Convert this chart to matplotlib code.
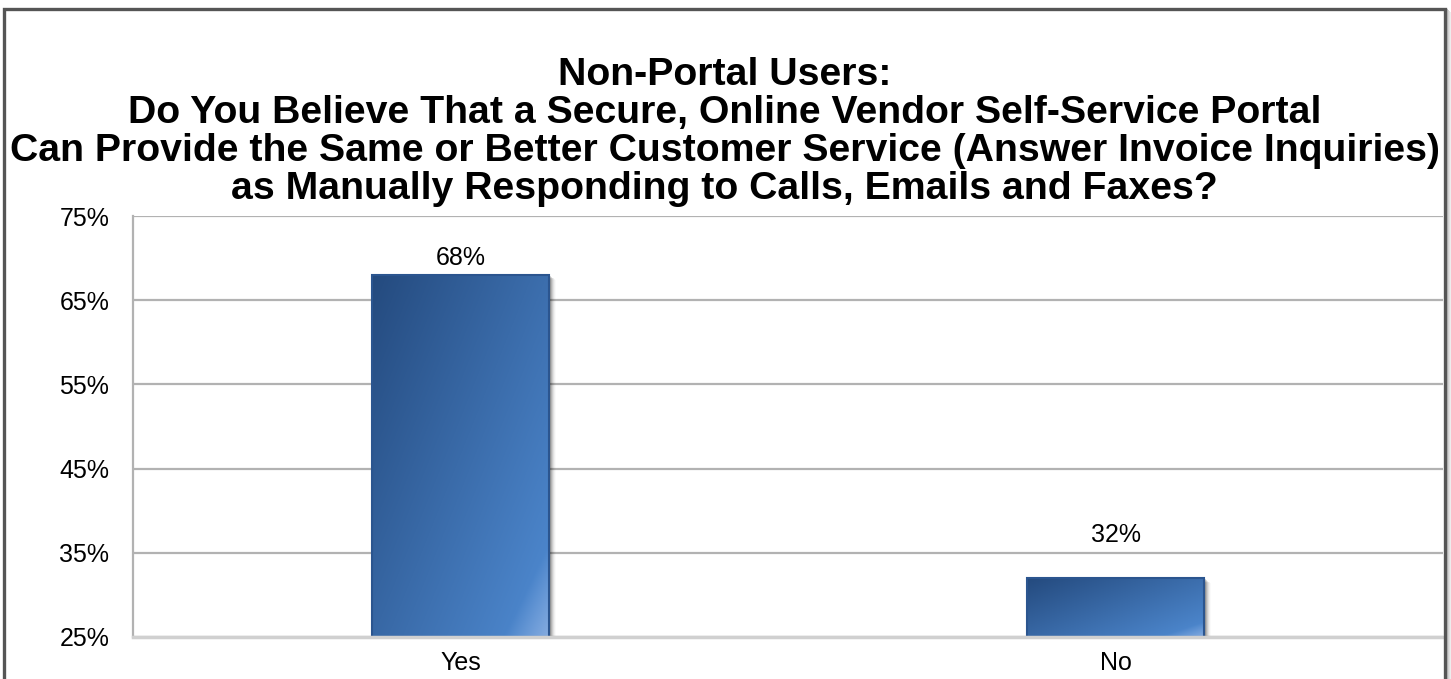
import numpy as np
import matplotlib.pyplot as plt
import matplotlib.transforms as mtransforms
from matplotlib.patches import Rectangle
from matplotlib.ticker import FuncFormatter

plt.rcParams['font.family'] = ['Liberation Sans', 'DejaVu Sans']

categories = ['Yes', 'No']
values = [68, 32]
yticks = [25, 35, 45, 55, 65, 75]
title = ('Non-Portal Users:\n'
         'Do You Believe That a Secure, Online Vendor Self-Service Portal\n'
         'Can Provide the Same or Better Customer Service (Answer Invoice Inquiries)\n'
         'as Manually Responding to Calls, Emails and Faxes?')

W, H = 1451, 679
fig = plt.figure(figsize=(W / 100, H / 100), dpi=100)
fig.patch.set_facecolor('white')

# plot area in pixels: left 133, right 1443, bottom 637, top 216
ax = fig.add_axes([133 / W, (H - 637) / H, (1443 - 133) / W, (637 - 216) / H])
ax.set_yticks(yticks)
ax.yaxis.set_major_formatter(FuncFormatter(lambda v, p: f'{v:.0f}%'))
ax.set_xticks(range(len(categories)))
ax.set_xticklabels(categories)
ax.tick_params(axis='both', length=0, labelsize=18, colors='black')
ax.tick_params(axis='y', pad=17)
ax.tick_params(axis='x', pad=10)
ax.grid(axis='y', color='#b2b2b2', linewidth=1.6)
ax.set_axisbelow(True)
for s in ['top', 'right']:
    ax.spines[s].set_visible(False)
ax.spines['left'].set_color('#b2b2b2')
ax.spines['left'].set_linewidth(1.6)
ax.spines['bottom'].set_color('#d0d0d0')
ax.spines['bottom'].set_linewidth(2.5)
ax.spines['bottom'].set_zorder(6)


def bar_gradient(n=200):
    # diagonal blue ramp, dark at top-left, with a pale sheen in the lower-right corner
    yy, xx = np.mgrid[0:1:n * 1j, 0:1:n * 1j]
    t = np.clip(0.55 * xx + 0.45 * yy, 0, 1)
    dark = np.array([0x24, 0x4a, 0x7e]) / 255
    light = np.array([0x50, 0x8c, 0xd4]) / 255
    img = dark + (light - dark) * t[..., None]
    sheen = np.clip((xx + yy - 1.75) / 0.25, 0, 1)
    pale = np.array([0x92, 0xb3, 0xe2]) / 255
    img = img + (pale - img) * (0.8 * sheen[..., None])
    return img


width = 0.27
grad = bar_gradient()
for i, v in enumerate(values):
    x0 = i - width / 2
    # soft drop shadow to the right and below
    for k, a in zip(range(1, 8), [0.18, 0.15, 0.12, 0.09, 0.06, 0.04, 0.02]):
        off = mtransforms.offset_copy(ax.transData, fig=fig, x=k * 0.72, y=-k * 0.5, units='points')
        ax.add_patch(Rectangle((x0, 25), width, v - 25, facecolor='black', alpha=a,
                               edgecolor='none', transform=off, zorder=2, clip_on=True))
    rect = Rectangle((x0, 25), width, v - 25, facecolor='none', edgecolor='#2b558f',
                     linewidth=1.5, zorder=4)
    ax.add_patch(rect)
    im = ax.imshow(grad, extent=[x0, x0 + width, 25, v], origin='upper', aspect='auto',
                   zorder=3, interpolation='bilinear')
    im.set_clip_path(rect)

ax.set_xlim(-0.5, 1.5)
ax.set_ylim(25, 75)

label_offsets = [17, 43]
for i, v in enumerate(values):
    ax.annotate(f'{v}%', (i, v), xytext=(0, label_offsets[i] * 0.72), textcoords='offset points',
                ha='center', va='center', fontsize=18, color='black')

fig.text(0.5 * (4 + 1445) / W, (H - 132) / H, title, ha='center', va='center',
         fontsize=28.3, fontweight='bold', linespacing=1.08)

# outer chart frame with a soft shadow on the right
fig_px = mtransforms.Affine2D().scale(1 / W, 1 / H) + fig.transFigure
for k, a in zip(range(1, 6), [0.25, 0.18, 0.12, 0.07, 0.03]):
    fig.add_artist(Rectangle((1446 + k, -10), 1, 680 - 9 + 10 - k, facecolor='black', alpha=a,
                             edgecolor='none', transform=fig_px))
fig.add_artist(Rectangle((4, -10), 1441, H - 9 + 10, facecolor='none', edgecolor='#555555',
                         linewidth=2.4, transform=fig_px))

fig.savefig('out.png', dpi=100)
